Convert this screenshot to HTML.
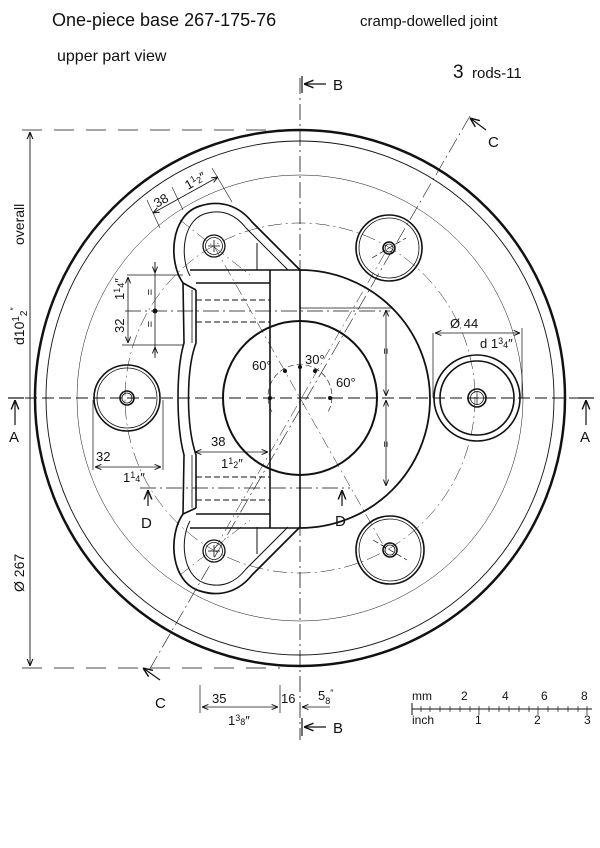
<!DOCTYPE html>
<html><head><meta charset="utf-8"><style>
html,body{margin:0;padding:0;background:#fff;}
svg{display:block;}
text{font-family:"Liberation Sans",sans-serif;fill:#111;}
</style></head><body>
<svg width="600" height="848" viewBox="0 0 600 848" xmlns="http://www.w3.org/2000/svg">
<defs>
<marker id="ar" viewBox="0 0 10 10" refX="10" refY="5" markerWidth="8" markerHeight="8" orient="auto-start-reverse"><path d="M0,1 L10,5 L0,9" fill="none" stroke="#111" stroke-width="1.5"/></marker>
</defs>
<!-- header -->
<text x="52" y="26" font-size="18">One-piece base  267-175-76</text>
<text x="360" y="26" font-size="15">cramp-dowelled  joint</text>
<text x="57" y="61" font-size="16">upper part  view</text>
<text x="453" y="78" font-size="19">3</text>
<text x="472" y="78" font-size="15">rods-11</text>

<g fill="none" stroke="#111">
<!-- outer circles -->
<ellipse cx="300" cy="398" rx="265" ry="268" stroke-width="2.5"/>
<ellipse cx="300" cy="398" rx="254" ry="257" stroke-width="0.9"/>
<circle cx="300" cy="398" r="223" stroke-width="0.5"/>
<circle cx="300" cy="398" r="175" stroke-width="0.5" stroke-dasharray="14 4 2 4"/>

<!-- center lines -->
<line x1="300" y1="78" x2="300" y2="740" stroke-width="0.8" stroke-dasharray="16 4 2 4"/>
<line x1="8" y1="398" x2="592" y2="398" stroke-width="0.9" stroke-dasharray="12 5"/>
<line x1="470" y1="116" x2="148" y2="672" stroke-width="0.6" stroke-dasharray="16 4 2 4"/>
<line x1="140" y1="488" x2="350" y2="488" stroke-width="0.8" stroke-dasharray="16 4 2 4"/>
<line x1="125" y1="311" x2="390" y2="311" stroke-width="0.8" stroke-dasharray="16 4 2 4"/>
<!-- radial thin lines -->
<g stroke-width="0.5" stroke-dasharray="12 4 2 4">
<line x1="214" y1="246" x2="386" y2="550"/>
<line x1="214" y1="550" x2="389" y2="246"/>
<line x1="180" y1="220" x2="250" y2="275"/>
<line x1="180" y1="575" x2="250" y2="520"/>
</g>

<!-- D shape right -->
<path d="M300,270 A130,129 0 0 1 300,528" stroke-width="1.8"/>
<!-- central circle -->
<circle cx="300" cy="398" r="77" stroke-width="2"/>
<path d="M272,412 A32,32 0 1 1 328,412" stroke-width="0.6" stroke-dasharray="6 3"/>

<!-- block -->
<g stroke-width="1.6">
<line x1="300" y1="270" x2="300" y2="528"/>
<line x1="270" y1="270" x2="270" y2="528"/>
<line x1="190" y1="270" x2="300" y2="270"/>
<line x1="196" y1="283" x2="270" y2="283"/>
<line x1="196" y1="514" x2="270" y2="514"/>
<line x1="190" y1="528" x2="300" y2="528"/>
<path d="M183,283 L184,343 C176,370 176,425 184,455 L183,514"/>
<path d="M196,290 L196,343 C186,370 186,425 196,455 L196,508"/>
<line x1="183" y1="283" x2="196" y2="290"/>
<line x1="183" y1="514" x2="196" y2="508"/>
<line x1="192" y1="290" x2="192" y2="343" stroke-width="0.8"/>
<line x1="192" y1="455" x2="192" y2="508" stroke-width="0.8"/>
</g>
<g stroke-width="0.9" stroke-dasharray="6 3">
<line x1="196" y1="300" x2="270" y2="300"/>
<line x1="196" y1="322" x2="270" y2="322"/>
<line x1="196" y1="477" x2="270" y2="477"/>
<line x1="196" y1="500" x2="270" y2="500"/>
</g>

<!-- lugs -->
<g id="lug" stroke-width="1.7">
<path d="M183,283 C168,262 170,215 200,206 C222,199 240,207 252,222 L300,270"/>
<path d="M190,276 C180,258 182,222 204,214 C222,208 236,215 246,228 L288,270" stroke-width="1"/>
<line x1="257" y1="243" x2="257" y2="270" stroke-width="1"/>
<circle cx="214" cy="246" r="11" stroke-width="1.3"/>
<circle cx="214" cy="246" r="8.5" stroke-width="0.8"/>
<line x1="208" y1="246" x2="220" y2="246" stroke-width="0.8"/>
<line x1="214" y1="240" x2="214" y2="252" stroke-width="0.8"/>
</g>
<use href="#lug" transform="translate(0,797) scale(1,-1)"/>

<!-- holes -->
<g stroke-width="1.6">
<circle cx="127" cy="398" r="33"/><circle cx="127" cy="398" r="30" stroke-width="0.8"/>
<circle cx="127" cy="398" r="7"/><circle cx="127" cy="398" r="5" stroke-width="0.8"/>
<circle cx="477" cy="398" r="43"/><circle cx="477" cy="398" r="37"/>
<circle cx="477" cy="398" r="9"/><circle cx="477" cy="398" r="6.5" stroke-width="0.8"/>
<circle cx="389" cy="248" r="33"/><circle cx="389" cy="248" r="30" stroke-width="0.8"/>
<circle cx="389" cy="248" r="6"/><circle cx="389" cy="248" r="4" stroke-width="0.8"/>
<circle cx="390" cy="550" r="34"/><circle cx="390" cy="550" r="31" stroke-width="0.8"/>
<circle cx="390" cy="550" r="7"/><circle cx="390" cy="550" r="5" stroke-width="0.8"/>
</g>
<g stroke-width="0.7">
<line x1="470" y1="398" x2="484" y2="398"/><line x1="477" y1="391" x2="477" y2="405"/>
<line x1="372" y1="258" x2="406" y2="238" stroke-dasharray="6 3"/>
<line x1="373" y1="540" x2="407" y2="560" stroke-dasharray="6 3"/>
</g>

<!-- left overall dim -->
<line x1="30" y1="132" x2="30" y2="666" stroke-width="0.9" marker-start="url(#ar)" marker-end="url(#ar)"/>
<line x1="22" y1="130" x2="300" y2="130" stroke-width="0.7" stroke-dasharray="20 12"/>
<line x1="22" y1="668" x2="280" y2="668" stroke-width="0.7" stroke-dasharray="20 12"/>

<!-- A arrows -->
<line x1="8" y1="398" x2="24" y2="398" stroke-width="1.2"/>
<line x1="15" y1="425" x2="15" y2="400" stroke-width="1.2" marker-end="url(#ar)"/>
<line x1="578" y1="398" x2="594" y2="398" stroke-width="1.2"/>
<line x1="586" y1="425" x2="586" y2="400" stroke-width="1.2" marker-end="url(#ar)"/>
<!-- D arrows -->
<line x1="148" y1="506" x2="148" y2="490" stroke-width="1.2" marker-end="url(#ar)"/>
<line x1="342" y1="506" x2="342" y2="490" stroke-width="1.2" marker-end="url(#ar)"/>
<!-- B arrows -->
<line x1="302" y1="76" x2="302" y2="93" stroke-width="1.2"/>
<line x1="326" y1="84" x2="304" y2="84" stroke-width="1.2" marker-end="url(#ar)"/>
<line x1="302" y1="718" x2="302" y2="736" stroke-width="1.2"/>
<line x1="326" y1="727" x2="304" y2="727" stroke-width="1.2" marker-end="url(#ar)"/>
<!-- C arrows -->
<line x1="486" y1="130" x2="470" y2="118" stroke-width="1.2" marker-end="url(#ar)"/>
<line x1="160" y1="680" x2="143" y2="668" stroke-width="1.2" marker-end="url(#ar)"/>

<!-- right = dim -->
<line x1="300" y1="308" x2="392" y2="308" stroke-width="0.7"/>
<line x1="386" y1="310" x2="386" y2="396" stroke-width="0.8" marker-start="url(#ar)" marker-end="url(#ar)"/>
<line x1="386" y1="400" x2="386" y2="486" stroke-width="0.8" marker-start="url(#ar)" marker-end="url(#ar)"/>
<!-- Ø44 dim -->
<line x1="433" y1="333" x2="433" y2="398" stroke-width="0.7"/>
<line x1="522" y1="328" x2="522" y2="398" stroke-width="0.7"/>
<line x1="435" y1="333" x2="520" y2="333" stroke-width="0.8" marker-start="url(#ar)" marker-end="url(#ar)"/>
<!-- left 32 vertical dim -->
<line x1="127" y1="275" x2="183" y2="275" stroke-width="0.7"/>
<line x1="122" y1="345" x2="183" y2="345" stroke-width="0.7"/>
<line x1="128" y1="277" x2="128" y2="343" stroke-width="0.8" marker-start="url(#ar)" marker-end="url(#ar)"/>
<line x1="155" y1="262" x2="155" y2="356" stroke-width="0.8"/>
<line x1="155" y1="262" x2="155" y2="273" stroke-width="0.8" marker-end="url(#ar)"/>
<line x1="155" y1="358" x2="155" y2="347" stroke-width="0.8" marker-end="url(#ar)"/>
<circle cx="155" cy="311" r="2" fill="#111"/>
<!-- bottom-left 32 dim -->
<line x1="93" y1="400" x2="93" y2="470" stroke-width="0.7"/>
<line x1="163" y1="400" x2="163" y2="470" stroke-width="0.7"/>
<line x1="95" y1="467" x2="161" y2="467" stroke-width="0.8" marker-start="url(#ar)" marker-end="url(#ar)"/>
<!-- inner 38 dim -->
<line x1="195" y1="452" x2="268" y2="452" stroke-width="0.8" marker-start="url(#ar)" marker-end="url(#ar)"/>
<!-- top diagonal dim -->
<line x1="153" y1="213" x2="218" y2="177" stroke-width="0.8" marker-start="url(#ar)" marker-end="url(#ar)"/>
<line x1="147" y1="200" x2="160" y2="228" stroke-width="0.6"/>
<line x1="172" y1="187" x2="183" y2="210" stroke-width="0.6"/>
<line x1="212" y1="168" x2="232" y2="202" stroke-width="0.6"/>
<!-- bottom dims -->
<line x1="200" y1="685" x2="200" y2="713" stroke-width="0.7"/>
<line x1="280" y1="685" x2="280" y2="713" stroke-width="0.7"/>
<line x1="202" y1="707" x2="278" y2="707" stroke-width="0.8" marker-start="url(#ar)" marker-end="url(#ar)"/>
<line x1="330" y1="707" x2="302" y2="707" stroke-width="0.8" marker-end="url(#ar)"/>
<!-- scale bar -->
<line x1="412" y1="709" x2="592" y2="709" stroke-width="1"/>
<line x1="412" y1="703" x2="412" y2="715" stroke-width="1"/>
</g>
<g stroke="#111" stroke-width="0.7">
<line x1="421" y1="706" x2="421" y2="712"/><line x1="430" y1="706" x2="430" y2="712"/>
<line x1="440" y1="706" x2="440" y2="712"/><line x1="450" y1="706" x2="450" y2="712"/>
<line x1="460" y1="706" x2="460" y2="712"/><line x1="470" y1="706" x2="470" y2="712"/>
<line x1="479" y1="706" x2="479" y2="715"/><line x1="489" y1="706" x2="489" y2="712"/>
<line x1="499" y1="706" x2="499" y2="712"/><line x1="509" y1="706" x2="509" y2="712"/>
<line x1="519" y1="706" x2="519" y2="712"/><line x1="529" y1="706" x2="529" y2="712"/>
<line x1="538" y1="706" x2="538" y2="715"/><line x1="548" y1="706" x2="548" y2="712"/>
<line x1="558" y1="706" x2="558" y2="712"/><line x1="568" y1="706" x2="568" y2="712"/>
<line x1="578" y1="706" x2="578" y2="712"/><line x1="587" y1="706" x2="587" y2="715"/>
</g>
<g fill="#111">
<circle cx="270" cy="398" r="2"/><circle cx="330" cy="398" r="2"/>
<circle cx="300" cy="367" r="2"/><circle cx="285" cy="371" r="2"/><circle cx="315" cy="371" r="2"/>
</g>

<!-- labels -->
<g font-size="15">
<text x="333" y="90">B</text>
<text x="333" y="733">B</text>
<text x="488" y="147">C</text>
<text x="155" y="708">C</text>
<text x="9" y="442">A</text>
<text x="580" y="442">A</text>
<text x="141" y="528">D</text>
<text x="335" y="526">D</text>
</g>
<g font-size="14">
<text transform="translate(24,245) rotate(-90)">overall</text>
<text transform="translate(24,345) rotate(-90)">d10<tspan font-size="10" dy="-5">1</tspan><tspan font-size="10" dy="8">2</tspan><tspan font-size="9" dy="-10">″</tspan></text>
<text transform="translate(24,592) rotate(-90)">Ø 267</text>
</g>
<g font-size="13">
<text x="252" y="370">60°</text>
<text x="305" y="364">30°</text>
<text x="336" y="387">60°</text>
<text x="450" y="328">Ø 44</text>
<text x="480" y="348">d 1<tspan font-size="9" dy="-4">3</tspan><tspan font-size="9" dy="4">4</tspan>″</text>
<text x="96" y="461">32</text>
<text x="123" y="482">1<tspan font-size="9" dy="-4">1</tspan><tspan font-size="9" dy="4">4</tspan>″</text>
<text x="211" y="446">38</text>
<text x="221" y="468">1<tspan font-size="9" dy="-4">1</tspan><tspan font-size="9" dy="4">2</tspan>″</text>
<text transform="translate(124,333) rotate(-90)">32</text>
<text transform="translate(124,300) rotate(-90)">1<tspan font-size="9" dy="-4">1</tspan><tspan font-size="9" dy="4">4</tspan>″</text>
<text transform="translate(157,208) rotate(-30)">38</text>
<text transform="translate(188,190) rotate(-30)">1<tspan font-size="9" dy="-4">1</tspan><tspan font-size="9" dy="4">2</tspan>″</text>
<text x="212" y="703">35</text>
<text x="228" y="725">1<tspan font-size="9" dy="-4">3</tspan><tspan font-size="9" dy="4">8</tspan>″</text>
<text x="281" y="703">16</text>
<text x="318" y="700">5<tspan font-size="9" dy="4">8</tspan><tspan font-size="9" dy="-8">″</tspan></text>
</g>
<g font-size="11">
<text x="382" y="356" transform="rotate(90 386 352)">=</text>
<text x="382" y="449" transform="rotate(90 386 445)">=</text>
<text x="146" y="297" transform="rotate(90 150 293)">=</text>
<text x="146" y="329" transform="rotate(90 150 325)">=</text>
</g>
<g font-size="12">
<text x="412" y="700">mm</text>
<text x="461" y="700">2</text>
<text x="502" y="700">4</text>
<text x="541" y="700">6</text>
<text x="581" y="700">8</text>
<text x="412" y="724">inch</text>
<text x="475" y="724">1</text>
<text x="534" y="724">2</text>
<text x="584" y="724">3</text>
</g>
</svg>
</body></html>
